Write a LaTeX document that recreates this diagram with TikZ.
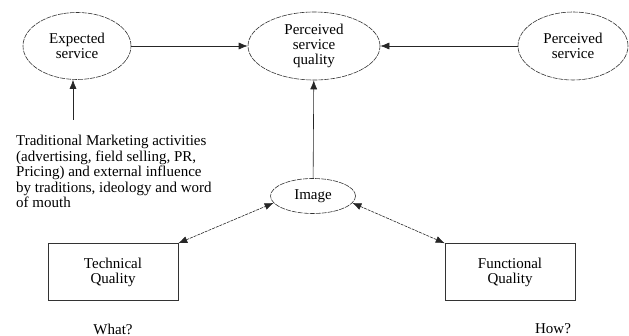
\documentclass[tikz,border=0pt]{standalone}
\usepackage{fontspec}
\setmainfont{Liberation Serif}
\usetikzlibrary{shapes.geometric,arrows.meta}
\begin{document}
\begin{tikzpicture}[x=1pt, y=-1pt,
        oval/.style={ellipse, draw=black!80, line width=0.6pt, dash pattern=on 5pt off 1pt, inner sep=0pt, align=center, font=\fontsize{15}{15}\selectfont},
        box/.style={rectangle, draw=black!80, line width=0.6pt, minimum width=130pt, minimum height=57pt, align=center, font=\fontsize{15}{15}\selectfont},
        arr/.style={draw=black!85, line width=0.6pt, -{Latex[length=9pt,width=7pt]}},
        darr/.style={draw=black!85, line width=0.6pt, dash pattern=on 3pt off 1pt, {Latex[length=9pt,width=7pt]}-{Latex[length=9pt,width=7pt]}}
    ]
    \useasboundingbox (0,0) rectangle (629,336);
    \node[oval, minimum width=108pt, minimum height=67pt] (exp) at (77,46) {Expected\\service};
    \node[oval, minimum width=132pt, minimum height=68pt] (psq) at (314,46) {Perceived\\service\\quality};
    \node[oval, minimum width=110pt, minimum height=68pt] (per) at (573,46) {Perceived\\service};
    \node[oval, minimum width=85pt, minimum height=35pt] (img) at (313,196) {Image};
    \node[box] (tq) at (113,272) {Technical\\Quality};
    \node[box] (fq) at (510,272) {Functional\\Quality};
    \node[anchor=north west, align=left, inner sep=0pt, font=\fontsize{15}{15.5}\selectfont] (mkt) at (16,135) {Traditional Marketing activities\\(advertising, field selling, PR,\\Pricing) and external influence\\by traditions, ideology and word\\of mouth};
    \node[font=\fontsize{15}{15}\selectfont] (what) at (113,329) {What?};
    \node[font=\fontsize{15}{15}\selectfont] (how) at (553,329) {How?};
    \coordinate (m) at (73,120);
    \draw[arr] (exp) -- (psq);
    \draw[arr] (per) -- (psq);
    \draw[arr] (m) -- (m |- exp.south);
    \draw[arr] (img) -- (psq);
    \draw[darr] (tq.north east) -- (img.190);
    \draw[darr] (img.350) -- (fq.north west);
\end{tikzpicture}
\end{document}
